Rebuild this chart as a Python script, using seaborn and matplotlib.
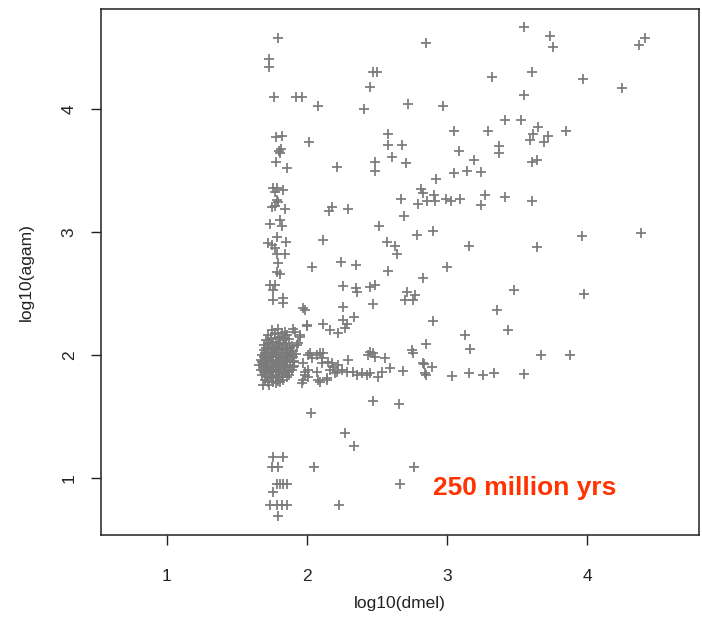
import matplotlib
matplotlib.use("Agg")
import matplotlib.pyplot as plt
import seaborn as sns
import pandas as pd

# ---- data (log10 values) ----
spread_dmel = [
    1.793, 1.729, 1.729, 2.471, 2.500, 2.450, 1.764, 1.921, 1.964, 2.079, 2.407, 2.721, 2.850,
    1.779, 1.821, 2.014, 1.800, 1.807, 1.814, 1.779, 1.857, 2.214, 2.486, 2.486, 2.579, 2.579,
    2.679, 2.607, 2.707,
    3.550, 3.736, 3.757, 4.414, 4.371, 3.321, 3.607, 3.971, 4.250, 3.550, 2.971, 3.414, 3.529,
    3.050, 3.293, 3.650, 3.850, 3.614, 3.593, 3.721, 3.693, 3.371, 3.371, 3.086, 3.193, 3.607,
    3.643, 3.050, 3.143, 3.243, 2.921,
    2.814, 2.829, 2.907, 2.857, 2.914, 2.993, 3.029, 3.093, 3.271, 3.243, 3.414, 3.607, 2.793,
    2.671, 2.693, 2.786, 2.900, 3.157, 3.643, 3.964, 4.386, 3.000, 2.829, 3.479, 3.979, 3.357,
    2.900, 3.436, 3.129, 2.850, 3.164, 3.671, 3.879, 2.836, 2.893, 2.850, 3.036, 3.157, 3.257,
    3.336, 3.550,
    1.757, 1.786, 1.829, 1.771, 1.786, 1.793, 1.750, 1.771, 1.843, 1.736, 1.807, 1.821, 1.786,
    1.721, 1.750, 1.771, 1.850, 1.786, 1.843, 1.793, 1.786, 1.807, 1.736, 1.771, 1.757, 1.757,
    1.829, 1.829, 1.971, 1.986,
    2.179, 2.157, 2.293, 2.114, 2.036, 2.243, 2.350, 2.257, 2.350, 2.357, 2.450, 2.486, 2.257,
    2.471, 2.257, 2.286, 2.271, 2.336, 2.000, 2.114, 2.164, 2.221, 1.900, 1.950, 2.514, 2.571,
    2.629, 2.643, 2.579, 2.714, 2.771, 2.700, 2.757, 2.750, 2.450,
    1.929, 2.021, 2.093, 2.107, 2.179, 2.186, 2.293, 2.286, 2.436, 2.471, 2.486, 2.557, 2.593,
    2.686, 2.757, 2.829, 2.843, 1.971, 2.007, 1.986, 2.071, 2.093, 2.143, 2.164, 2.214, 2.221,
    2.329, 2.357, 2.393, 2.429, 2.450, 2.507, 2.536, 1.964, 1.686, 2.471, 2.657, 2.029, 2.271,
    2.336, 1.757, 1.829, 1.750, 1.793, 2.050, 2.764, 1.786, 1.807, 1.829, 1.857, 1.757, 2.664,
    1.736, 1.786, 1.821, 1.857, 1.793, 2.229,
    1.914, 1.950, 2.000, 1.936, 2.007, 2.036, 2.071, 2.114, 2.107, 2.150, 2.250, 1.986, 2.007,
    1.971, 2.079, 2.143, 2.200,
]
spread_agam = [
    4.577, 4.407, 4.341, 4.301, 4.301, 4.179, 4.098, 4.098, 4.098, 4.024, 4.000, 4.041, 4.537,
    3.772, 3.780, 3.732, 3.659, 3.642, 3.675, 3.569, 3.520, 3.528, 3.569, 3.496, 3.797, 3.707,
    3.707, 3.610, 3.561,
    4.667, 4.593, 4.504, 4.577, 4.520, 4.260, 4.301, 4.244, 4.171, 4.114, 4.024, 3.911, 3.911,
    3.821, 3.821, 3.854, 3.821, 3.797, 3.748, 3.780, 3.732, 3.699, 3.642, 3.659, 3.585, 3.569,
    3.585, 3.480, 3.496, 3.488, 3.431,
    3.350, 3.317, 3.301, 3.252, 3.252, 3.268, 3.252, 3.268, 3.301, 3.220, 3.285, 3.252, 3.228,
    3.268, 3.130, 2.976, 3.008, 2.886, 2.878, 2.967, 2.992, 2.715, 2.626, 2.528, 2.496, 2.366,
    2.276, 2.203, 2.163, 2.089, 2.049, 2.000, 2.000, 1.927, 1.902, 1.837, 1.829, 1.854, 1.837,
    1.854, 1.846,
    3.358, 3.358, 3.341, 3.325, 3.260, 3.244, 3.203, 3.211, 3.187, 3.065, 3.098, 3.049, 2.959,
    2.911, 2.894, 2.870, 2.919, 2.821, 2.821, 2.748, 2.675, 2.659, 2.569, 2.569, 2.528, 2.447,
    2.463, 2.423, 2.382, 2.366,
    3.203, 3.171, 3.187, 2.935, 2.715, 2.756, 2.732, 2.561, 2.545, 2.512, 2.553, 2.569, 2.390,
    2.415, 2.285, 2.252, 2.220, 2.309, 2.236, 2.252, 2.203, 2.179, 2.211, 2.146, 3.049, 2.919,
    2.886, 2.821, 2.683, 2.512, 2.488, 2.447, 2.447, 2.041, 2.024,
    2.081, 2.016, 2.016, 1.976, 1.935, 1.902, 1.959, 1.862, 2.000, 2.016, 1.984, 1.976, 1.894,
    1.870, 2.016, 1.935, 1.854, 1.935, 1.878, 1.837, 1.862, 1.780, 1.797, 1.878, 1.862, 1.919,
    1.862, 1.837, 1.854, 1.837, 1.854, 1.821, 1.862, 1.772, 1.756, 1.626, 1.602, 1.528, 1.366,
    1.260, 1.171, 1.171, 1.089, 1.089, 1.089, 1.089, 0.951, 0.951, 0.951, 0.951, 0.886, 0.951,
    0.780, 0.780, 0.780, 0.780, 0.691, 0.780,
    2.188, 2.163, 2.244, 2.098, 2.000, 1.976, 2.000, 2.016, 1.935, 1.943, 1.878, 1.862, 1.821,
    1.797, 1.797, 1.813, 1.854,
]

# dense cluster around dmel ~1.8, agam ~1.9
blob_dmel = [
    1.75, 1.79, 1.84,
    1.72, 1.77, 1.81, 1.86,
    1.71, 1.74, 1.78, 1.83, 1.87,
    1.69, 1.73, 1.76, 1.80, 1.84, 1.89,
    1.69, 1.72, 1.76, 1.79, 1.83, 1.86, 1.90,
    1.68, 1.71, 1.75, 1.78, 1.82, 1.86, 1.89, 1.92,
    1.67, 1.71, 1.74, 1.78, 1.81, 1.85, 1.88, 1.91,
    1.66, 1.70, 1.74, 1.77, 1.81, 1.84, 1.88, 1.91,
    1.67, 1.71, 1.74, 1.78, 1.81, 1.85, 1.89,
    1.68, 1.72, 1.76, 1.79, 1.84, 1.87,
    1.70, 1.74, 1.79, 1.83,
    1.73, 1.78,
]
blob_agam = [
    2.20, 2.21, 2.19,
    2.16, 2.17, 2.15, 2.16,
    2.12, 2.13, 2.11, 2.12, 2.13,
    2.08, 2.09, 2.07, 2.08, 2.09, 2.07,
    2.04, 2.05, 2.03, 2.04, 2.05, 2.04, 2.03,
    2.00, 2.01, 1.99, 2.00, 2.01, 1.99, 2.00, 2.01,
    1.96, 1.97, 1.95, 1.96, 1.97, 1.95, 1.96, 1.95,
    1.92, 1.93, 1.91, 1.92, 1.93, 1.91, 1.92, 1.91,
    1.88, 1.89, 1.87, 1.88, 1.89, 1.87, 1.88,
    1.84, 1.85, 1.83, 1.84, 1.85, 1.84,
    1.80, 1.81, 1.79, 1.80,
    1.76, 1.77,
]
core_dmel = [
    1.77, 1.82,
    1.74, 1.79, 1.84,
    1.72, 1.76, 1.81, 1.85,
    1.71, 1.75, 1.78, 1.82, 1.86, 1.88,
    1.70, 1.74, 1.77, 1.81, 1.84, 1.88,
    1.69, 1.73, 1.76, 1.80, 1.84, 1.87, 1.90,
    1.68, 1.72, 1.76, 1.79, 1.83, 1.86, 1.90,
    1.69, 1.72, 1.76, 1.79, 1.83, 1.86, 1.90,
    1.69, 1.73, 1.76, 1.80, 1.83, 1.87,
    1.71, 1.75, 1.78, 1.82, 1.86,
    1.72, 1.76, 1.81,
]
core_agam = [
    2.18, 2.18,
    2.14, 2.14, 2.14,
    2.10, 2.10, 2.10, 2.10,
    2.06, 2.06, 2.06, 2.06, 2.06, 2.06,
    2.02, 2.02, 2.02, 2.02, 2.02, 2.02,
    1.98, 1.98, 1.98, 1.98, 1.98, 1.98, 1.98,
    1.94, 1.94, 1.94, 1.94, 1.94, 1.94, 1.94,
    1.90, 1.90, 1.90, 1.90, 1.90, 1.90, 1.90,
    1.86, 1.86, 1.86, 1.86, 1.86, 1.86,
    1.82, 1.82, 1.82, 1.82, 1.82,
    1.78, 1.78, 1.78,
]

x_ticks = [1, 2, 3, 4]
y_ticks = [1, 2, 3, 4]
annotation = "250 million yrs"

df = pd.DataFrame({
    "dmel": spread_dmel + blob_dmel + core_dmel,
    "agam": spread_agam + blob_agam + core_agam,
})

sns.set_style("white")
plt.rcParams["font.family"] = ["Liberation Sans", "DejaVu Sans"]

fig = plt.figure(figsize=(7.02, 6.27), dpi=100)
ax = fig.add_axes([101 / 702, 1 - 535 / 627, 598 / 702, 526 / 627])

sns.scatterplot(data=df, x="dmel", y="agam", ax=ax, marker="+",
                color="#7a7a7a", s=55, linewidth=1.25, legend=False)

ax.set_xlim(0.529, 4.80)
ax.set_ylim(0.537, 4.813)
ax.set_xticks(x_ticks)
ax.set_yticks(y_ticks)
ax.set_xticklabels([str(t) for t in x_ticks])
ax.set_yticklabels([str(t) for t in y_ticks], rotation=90, va="center")

for sp in ax.spines.values():
    sp.set_visible(True)
    sp.set_color("#222222")
    sp.set_linewidth(1.1)

ax.tick_params(axis="both", direction="out", length=7.5, width=1.0,
               color="#222222", labelsize=12.5, labelcolor="#222222",
               bottom=True, left=True)
ax.tick_params(axis="x", pad=17)
ax.tick_params(axis="y", pad=10)

ax.set_xlabel("log10(dmel)", fontsize=12.5, color="#222222")
ax.set_ylabel("log10(agam)", fontsize=12.5, color="#222222")
ax.xaxis.set_label_coords(0.5, -0.116)
ax.yaxis.set_label_coords(-0.112, 0.5)

ax.text(2.9, 0.92, annotation, color="#ff3300", fontsize=19,
        fontweight="bold", ha="left", va="center")

fig.savefig("out.png", dpi=100)
